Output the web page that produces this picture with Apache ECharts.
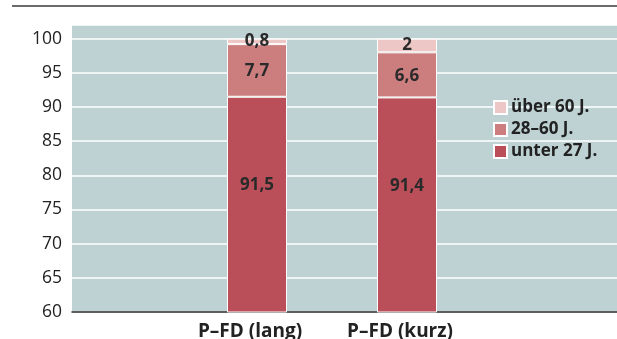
<!DOCTYPE html>
<html>
<head>
<meta charset="utf-8">
<script src="https://cdn.jsdelivr.net/npm/echarts@6/dist/echarts.min.js"></script>
<style>
  html, body { margin: 0; padding: 0; background: #fff; }
  #chart { width: 617px; height: 339px; }
</style>
</head>
<body>
<div id="chart"></div>
<script>
// Altersverteilung je Variante (Prozent)
const categories = ['P–FD (lang)', 'P–FD (kurz)'];
const seriesNames = ['unter 27 J.', '28–60 J.', 'über 60 J.'];
const unter27 = [91.5, 91.4];
const mitte = [7.7, 6.6];
const ueber60 = [0.8, 2];
const yTicks = [60, 65, 70, 75, 80, 85, 90, 95, 100];

const colors = ['#ba4f59', '#cc7d7e', '#ecc7c5'];
const FONT = '"Open Sans", "DejaVu Sans", sans-serif';

const fmt = v => String(v).replace('.', ',');

function segment(name, values, color, offset) {
  return {
    name: name,
    type: 'bar',
    stack: 'total',
    xAxisIndex: 1,
    yAxisIndex: 1,
    barWidth: 60,
    data: values,
    itemStyle: { color: color, borderColor: '#ffffff', borderWidth: 1 },
    label: {
      show: true,
      position: 'inside',
      offset: offset,
      formatter: p => fmt(p.value),
      fontFamily: FONT,
      fontWeight: 'bold',
      fontSize: 17,
      color: '#2a2a2a'
    }
  };
}

const chart = echarts.init(document.getElementById('chart'), null, { renderer: 'canvas' });
chart.setOption({
  animation: false,
  textStyle: { fontFamily: FONT },
  graphic: [{
    type: 'line',
    shape: { x1: 12, y1: 6, x2: 617, y2: 6 },
    style: { stroke: '#6b6b6b', lineWidth: 2 }
  }],
  grid: [
    {
      left: 72, right: 0, top: 25, bottom: 27, outerBoundsMode: 'none',
      show: true, backgroundColor: '#bed1d3', borderWidth: 0
    },
    { left: 182, right: 135, top: 25, bottom: 27, outerBoundsMode: 'none' }
  ],
  xAxis: [
    {
      type: 'category', gridIndex: 0, data: [''],
      axisLine: { show: true, lineStyle: { color: '#2b2b2b', width: 1.5 } },
      axisTick: { show: false }, axisLabel: { show: false }, splitLine: { show: false }
    },
    {
      type: 'category', gridIndex: 1, data: categories,
      axisLine: { show: false }, axisTick: { show: false },
      axisLabel: {
        margin: 10, padding: [0, 14, 0, 0],
        fontFamily: FONT, fontWeight: 'bold', fontSize: 19, color: '#222'
      }
    }
  ],
  yAxis: [
    {
      type: 'value', gridIndex: 0, min: 60, max: 102, interval: 5,
      axisLine: { show: false }, axisTick: { show: false },
      axisLabel: {
        margin: 10, fontFamily: FONT, fontSize: 17.5, color: '#222',
        formatter: v => (yTicks.indexOf(v) >= 0 ? String(v) : '')
      },
      splitLine: { show: true, lineStyle: { color: '#ffffff', width: 1.5 } }
    },
    {
      type: 'value', gridIndex: 1, min: 60, max: 102, show: false,
      splitLine: { show: false }
    }
  ],
  legend: {
    orient: 'vertical',
    left: 488, top: 94,
    itemWidth: 13, itemHeight: 13, itemGap: 5,
    icon: 'rect',
    data: [seriesNames[2], seriesNames[1], seriesNames[0]],
    textStyle: { fontFamily: FONT, fontWeight: 'bold', fontSize: 17, color: '#222', padding: [0, 0, 0, -1] }
  },
  series: [
    segment(seriesNames[0], unter27, colors[0], [0, -19]),
    segment(seriesNames[1], mitte, colors[1], [0, 1]),
    segment(seriesNames[2], ueber60, colors[2], [0, 0])
  ]
});
</script>
</body>
</html>
